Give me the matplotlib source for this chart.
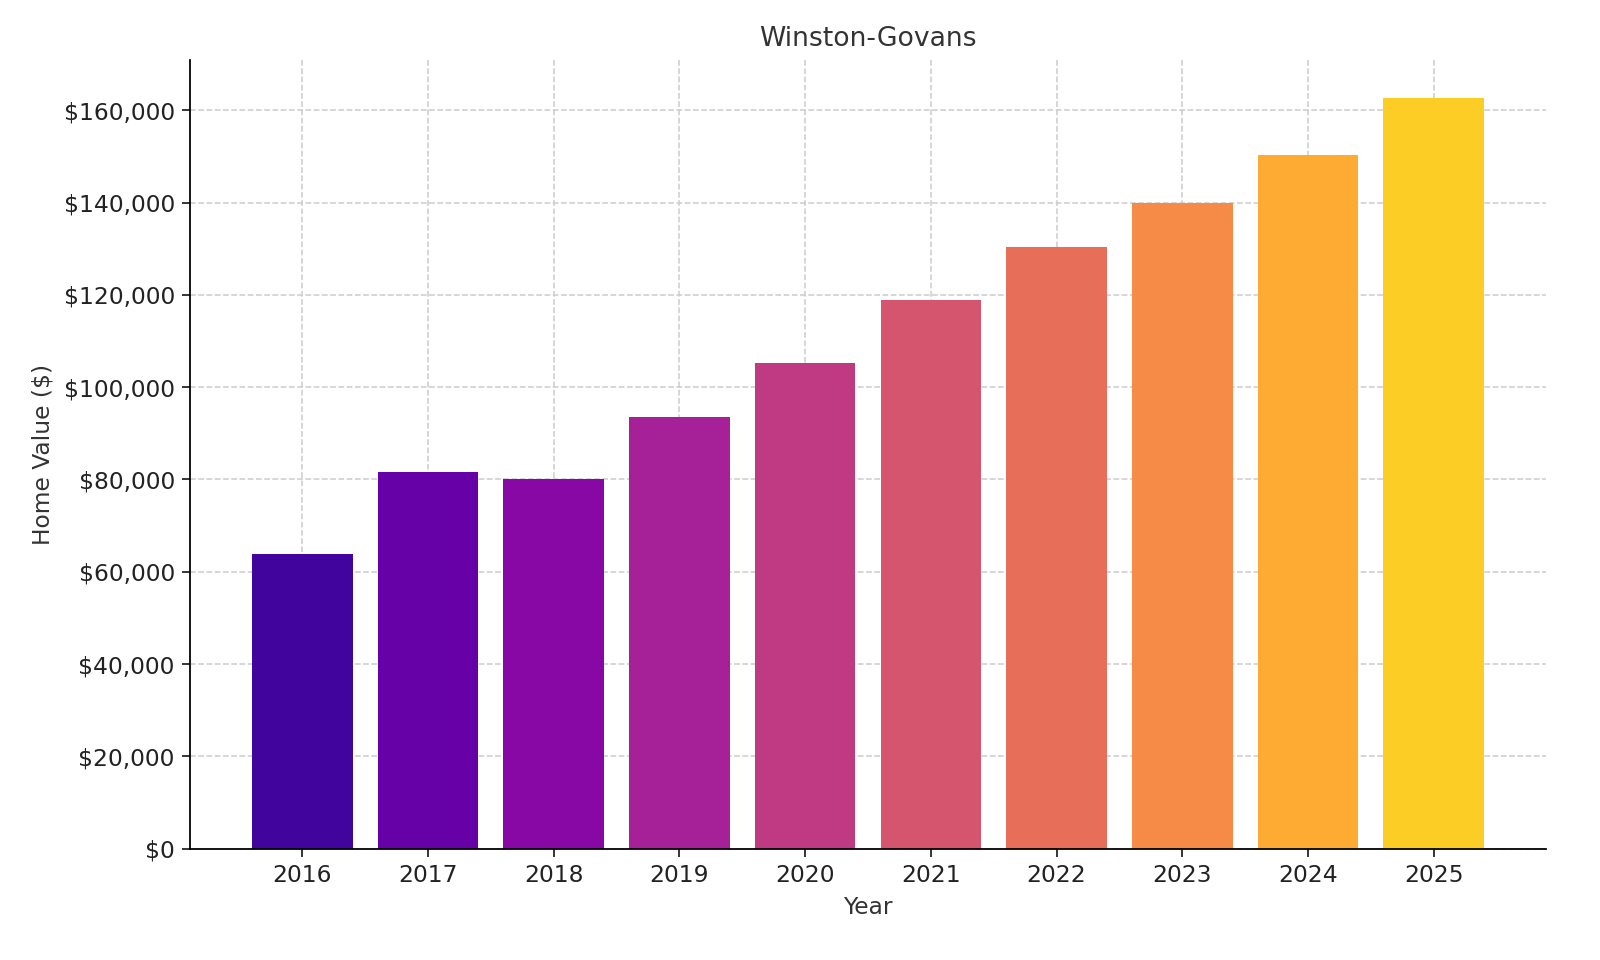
import matplotlib
matplotlib.use("Agg")
import matplotlib.pyplot as plt
from matplotlib.ticker import FuncFormatter
import numpy as np

years = ["2016", "2017", "2018", "2019", "2020", "2021", "2022", "2023", "2024", "2025"]
values = [63900, 81600, 80100, 93500, 105200, 118900, 130300, 139900, 150300, 162600]

colors = plt.cm.plasma(np.linspace(0.1, 0.9, len(years)))

fig = plt.figure(figsize=(10, 6), dpi=160)
ax = fig.add_axes([0.119, 0.116, 0.847, 0.822])
ax.bar(years, values, color=colors, width=0.8, zorder=2)

ax.set_title("Winston-Govans", fontsize=12, color="#333333")
ax.set_xlabel("Year", fontsize=10.5, color="#333333")
ax.set_ylabel("Home Value ($)", fontsize=10.5, color="#333333")
ax.yaxis.set_major_formatter(FuncFormatter(lambda v, p: f"${v:,.0f}"))
ax.set_yticks(range(0, 160001, 20000))
ax.set_ylim(0, 171000)
ax.tick_params(labelsize=10.5, colors="#222222")
ax.grid(True, linestyle="--", color="#cccccc", linewidth=0.7, zorder=0)
ax.spines["top"].set_visible(False)
ax.spines["right"].set_visible(False)

fig.savefig("out.png")
